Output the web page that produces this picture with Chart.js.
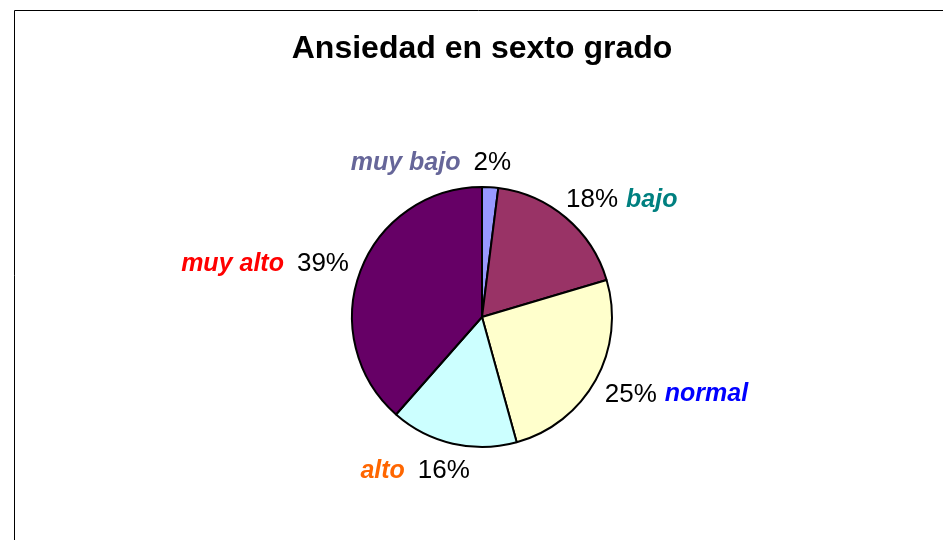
<!DOCTYPE html>
<html>
<head>
<meta charset="utf-8">
<script src="https://cdn.jsdelivr.net/npm/chart.js@4/dist/chart.umd.min.js"></script>
<style>
  html, body { margin: 0; padding: 0; background: #fff; }
  #wrap { width: 943px; height: 540px; position: relative; }
</style>
</head>
<body>
<div id="wrap"><canvas id="pieChart" width="943" height="540"></canvas></div>
<script>
// =================== DATA ===================
const chartTitle = "Ansiedad en sexto grado";
const categories = ["muy bajo", "bajo", "normal", "alto", "muy alto"];
const percents = [2.0, 18.4, 25.3, 15.8, 38.5];
const sliceColors = ["#9999FF", "#993366", "#FFFFCC", "#CCFFFF", "#660066"];
const nameColors = ["#666699", "#008080", "#0000FF", "#FF6600", "#FF0000"];
// which side of the percentage the category name sits on (-1 left, 1 right)
const nameSide = [-1, 1, 1, -1, -1];

const FONT = "'Liberation Sans', Arial, sans-serif";

// frame (only top and left edges visible) + title
const framePlugin = {
  id: "frame",
  beforeDraw(chart) {
    const ctx = chart.ctx;
    ctx.save();
    ctx.strokeStyle = "#000";
    ctx.lineWidth = 1;
    ctx.beginPath();
    ctx.moveTo(14.5, 540);
    ctx.lineTo(14.5, 10.5);
    ctx.lineTo(943, 10.5);
    ctx.stroke();

    ctx.fillStyle = "#000";
    ctx.font = "bold 32px " + FONT;
    ctx.textAlign = "center";
    ctx.textBaseline = "middle";
    const ca = chart.chartArea;
    ctx.fillText(chartTitle, (ca.left + ca.right) / 2, 49);
    ctx.restore();
  }
};

// outside labels: "NN%" plus category name
const labelPlugin = {
  id: "sliceLabels",
  afterDraw(chart) {
    const ctx = chart.ctx;
    const meta = chart.getDatasetMeta(0);
    ctx.save();
    ctx.textBaseline = "middle";
    meta.data.forEach((arc, i) => {
      const p = arc.getProps(["startAngle", "endAngle", "x", "y", "outerRadius"], true);
      const mid = (p.startAngle + p.endAngle) / 2;
      const cx = Math.cos(mid), sy = Math.sin(mid);
      const txt = Math.round(percents[i]) + "%";
      ctx.font = "26px " + FONT;
      const w = ctx.measureText(txt).width;
      const r = p.outerRadius + 14;
      const x = p.x + cx * r + cx * w / 2;
      const y = p.y + sy * r + sy * 12 + 2;
      ctx.fillStyle = "#000";
      ctx.textAlign = "center";
      ctx.fillText(txt, x, y);
      ctx.font = "italic bold 25px " + FONT;
      ctx.fillStyle = nameColors[i];
      if (nameSide[i] < 0) {
        ctx.textAlign = "right";
        ctx.fillText(categories[i], x - w / 2 - 13, y);
      } else {
        ctx.textAlign = "left";
        ctx.fillText(categories[i], x + w / 2 + 8, y);
      }
    });
    ctx.restore();
  }
};

const pie = new Chart(document.getElementById("pieChart"), {
  type: "pie",
  data: {
    labels: categories,
    datasets: [{
      data: percents,
      backgroundColor: sliceColors,
      borderColor: "#000",
      borderWidth: 2
    }]
  },
  options: {
    responsive: false,
    animation: false,
    layout: { padding: { left: 351, right: 330, top: 186, bottom: 92 } },
    plugins: {
      legend: { display: false },
      tooltip: { enabled: false },
      title: { display: false }
    }
  },
  plugins: [framePlugin, labelPlugin]
});
</script>
</body>
</html>
